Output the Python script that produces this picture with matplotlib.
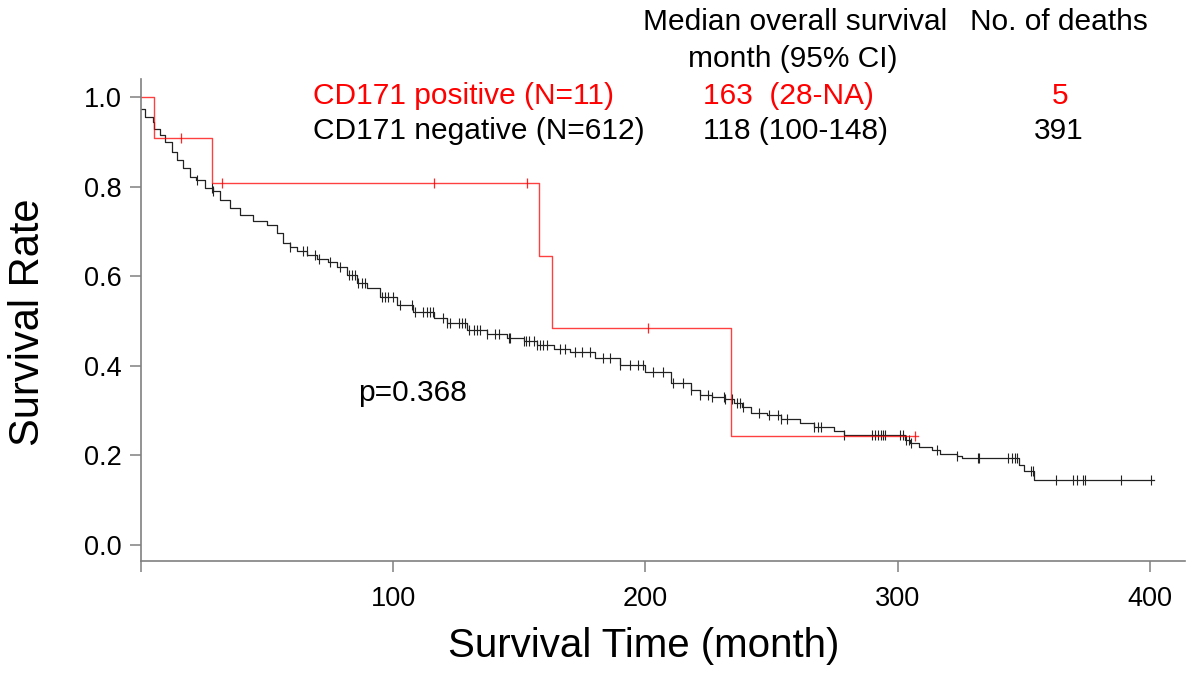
import numpy as np
import matplotlib
matplotlib.use("Agg")
import matplotlib.pyplot as plt

plt.rcParams['font.family'] = ['Liberation Sans', 'DejaVu Sans']

# CD171 positive (N=11): step knots (time, survival) and censor times
pos_t = [0, 5.2, 28, 158, 163, 234]
pos_s = [1.0, 0.909, 0.808, 0.646, 0.485, 0.242]
pos_end = 308
pos_cens = [16, 32, 116, 153, 201, 307]

# CD171 negative (N=612): step knots
neg_t = [0, 1.5, 4.6, 5.2, 7.5, 9.5, 12.2, 14.2, 16.8, 19.4, 22, 25.4, 28.5,
         31.3, 35.3, 39.3, 44.6, 49.9, 53.8, 56.5, 59.1, 62, 66, 69.7, 74,
         77.7, 81.6, 85.6, 89.6, 94.8, 101.5, 108, 116, 121.3, 129.2, 137.2,
         145.1, 151.7, 157, 163.6, 170, 180, 190, 200, 210, 218, 221.8, 226.5,
         231.7, 235, 238.4, 241.7, 248.3, 253.6, 261.5, 266.8, 274.7, 278.7,
         303, 305, 308.5, 313.8, 317, 323.7, 325.7, 348, 350, 354]
neg_s = [0.973, 0.955, 0.945, 0.928, 0.915, 0.900, 0.878, 0.859, 0.841, 0.822,
         0.815, 0.796, 0.789, 0.770, 0.752, 0.737, 0.724, 0.714, 0.696, 0.673,
         0.666, 0.655, 0.648, 0.638, 0.632, 0.621, 0.603, 0.584, 0.573, 0.554,
         0.536, 0.521, 0.506, 0.495, 0.480, 0.471, 0.461, 0.456, 0.446, 0.437,
         0.430, 0.418, 0.402, 0.385, 0.362, 0.345, 0.335, 0.331, 0.326, 0.316,
         0.307, 0.294, 0.290, 0.281, 0.273, 0.264, 0.255, 0.246, 0.234, 0.228,
         0.219, 0.212, 0.203, 0.199, 0.193, 0.179, 0.166, 0.145]
neg_end = 401.6
neg_cens = [22.1, 28, 28.7, 59.1, 64.4, 65.7, 69, 70.4, 75, 79, 82.3, 83.6, 84.9,
            86.2, 87.6, 88.9, 95.5, 96.8, 98.1, 99.8, 102.7, 107.3, 108.6, 112,
            113.3, 114.6, 115.9, 119.9, 121.3, 122.6, 125.9, 127.2, 128.6, 129.9,
            131.9, 133.2, 134.5, 137.2, 140.5, 141.8, 145.8, 146.4, 151.7, 152.6,
            153.7, 155.7, 157, 158.3, 159.6, 160.9, 166.2, 168.2, 172, 175, 178,
            183, 186, 190, 194, 197, 199, 203, 207, 211, 215, 218, 221.8, 225,
            226.5, 231, 231.7, 234.4, 236.4, 237.7, 238.8, 245, 249, 252.5, 253.6,
            256, 266.8, 268.4, 269.7, 278.7, 289.7, 291, 292.1, 293.3, 294.3,
            295.2, 301, 302.2, 303.2, 304.5, 305.2, 315.5, 323.7, 331.8, 332.3,
            343.8, 345.5, 346.4, 347.5, 352.8, 353.7, 362.7, 369.6, 371.3, 373.5,
            374.2, 388.5, 400.7]

x_ticks = [0, 100, 200, 300, 400]
x_labels = ['', '100', '200', '300', '400']
y_ticks = [0.0, 0.2, 0.4, 0.6, 0.8, 1.0]


def surv_at(t, knots_t, knots_s):
    idx = np.searchsorted(knots_t, t, side='right') - 1
    return np.array(knots_s)[idx]


fig = plt.figure(figsize=(11.88, 6.73), dpi=100)
ax = fig.add_axes([0.1187, 0.1664, 0.8788, 0.7162])

neg_col = '#222222'
pos_col = '#ff0000'

# negative group
ax.step(neg_t + [neg_end], neg_s + [neg_s[-1]], where='post', color=neg_col, lw=0.9)
ax.plot(neg_cens, surv_at(neg_cens, neg_t, neg_s), ls='none', marker='|',
        ms=7, mew=0.8, color=neg_col)

# positive group
ax.step(pos_t + [pos_end], pos_s + [pos_s[-1]], where='post', color=pos_col,
        lw=1.0, alpha=0.75)
ax.plot(pos_cens, surv_at(pos_cens, pos_t, pos_s), ls='none', marker='|',
        ms=7, mew=0.9, color=pos_col, alpha=0.85)

ax.set_xlim(0, 414)
ax.set_ylim(-0.036, 1.04)
ax.set_xticks(x_ticks)
ax.set_xticklabels(x_labels)
ax.set_yticks(y_ticks)
ax.set_yticklabels(['%.1f' % v for v in y_ticks])

for s in ['top', 'right']:
    ax.spines[s].set_visible(False)
for s in ['left', 'bottom']:
    ax.spines[s].set_color('#808080')
    ax.spines[s].set_linewidth(1.2)
ax.tick_params(axis='both', direction='out', length=8, width=1.1,
               color='#808080', labelsize=19.5)
ax.tick_params(axis='x', pad=10)
ax.tick_params(axis='y', pad=6)

# axis labels
fig.text(28 / 1188, 1 - 322 / 673, 'Survival Rate', rotation=90,
         ha='center', va='center', fontsize=30)
fig.text(644 / 1188, 1 - 646 / 673, 'Survival Time (month)',
         ha='center', va='center', fontsize=29)

# table text
fs = 21.5
fig.text(795 / 1188, 1 - 22 / 673, 'Median overall survival', ha='center', va='center', fontsize=fs)
fig.text(793 / 1188, 1 - 59 / 673, 'month (95% CI)', ha='center', va='center', fontsize=fs)
fig.text(1059 / 1188, 1 - 22 / 673, 'No. of deaths', ha='center', va='center', fontsize=fs)

fig.text(313 / 1188, 1 - 96 / 673, 'CD171 positive (N=11)', ha='left', va='center',
         fontsize=fs, color=pos_col)
fig.text(313 / 1188, 1 - 131 / 673, 'CD171 negative (N=612)', ha='left', va='center',
         fontsize=fs, color='black')
fig.text(703 / 1188, 1 - 96 / 673, '163  (28-NA)', ha='left', va='center',
         fontsize=fs, color=pos_col)
fig.text(703 / 1188, 1 - 131 / 673, '118 (100-148)', ha='left', va='center',
         fontsize=fs, color='black')
fig.text(1060 / 1188, 1 - 96 / 673, '5', ha='center', va='center',
         fontsize=fs, color=pos_col)
fig.text(1059 / 1188, 1 - 131 / 673, '391', ha='center', va='center',
         fontsize=fs, color='black')

ax.text(0.208, 0.349, 'p=0.368', transform=ax.transAxes, ha='left', va='center',
        fontsize=fs)

fig.savefig('out.png', dpi=100)
